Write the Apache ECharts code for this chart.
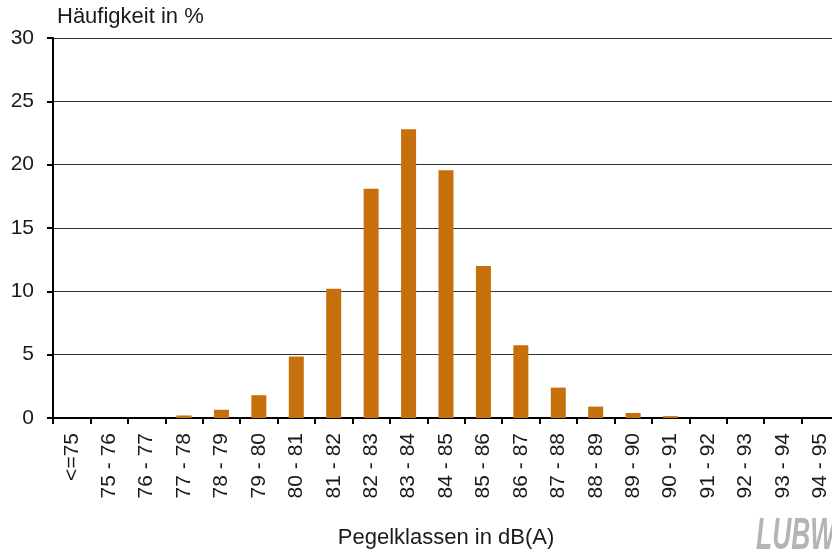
<!DOCTYPE html>
<html>
<head>
<meta charset="utf-8">
<script src="https://cdn.jsdelivr.net/npm/echarts@6/dist/echarts.min.js"></script>
<style>
html,body{margin:0;padding:0;background:#fff;}
#chart{width:832px;height:550px;}
</style>
</head>
<body>
<div id="chart"></div>
<script>
const categories = ["<=75","75 - 76","76 - 77","77 - 78","78 - 79","79 - 80","80 - 81","81 - 82","82 - 83","83 - 84","84 - 85","85 - 86","86 - 87","87 - 88","88 - 89","89 - 90","90 - 91","91 - 92","92 - 93","93 - 94","94 - 95"];
const frequency = [0,0,0,0.2,0.65,1.8,4.85,10.2,18.1,22.8,19.55,12.0,5.75,2.4,0.9,0.4,0.15,0,0,0,0];
const yTicks = [0,5,10,15,20,25,30];

const font = '"Liberation Sans", Arial, sans-serif';
const chart = echarts.init(document.getElementById('chart'), null, {renderer:'canvas'});
chart.setOption({
  animation:false,
  backgroundColor:'#fff',
  title:{
    text:'Häufigkeit in %',
    left:52, top:1,
    textStyle:{fontFamily:font, fontSize:22, fontWeight:'normal', color:'#1a1a1a'}
  },
  grid:{left:53, right:-7, top:38, bottom:132, containLabel:false, outerBoundsMode:'none'},
  xAxis:{
    type:'category',
    data:categories,
    boundaryGap:true,
    name:'Pegelklassen in dB(A)',
    nameLocation:'middle',
    nameGap:109,
    nameTextStyle:{fontFamily:font, fontSize:22, color:'#1a1a1a'},
    axisLine:{lineStyle:{color:'#000', width:2}},
    axisTick:{show:true, length:6, lineStyle:{color:'#000', width:2}, alignWithLabel:false},
    axisLabel:{rotate:90, margin:15, interval:0, fontFamily:font, fontSize:21, color:'#1a1a1a'},
    splitLine:{show:false}
  },
  yAxis:{
    type:'value',
    min:yTicks[0], max:yTicks[yTicks.length-1], interval:5,
    axisLine:{show:true, lineStyle:{color:'#000', width:2}},
    axisTick:{show:true, length:6, lineStyle:{color:'#000', width:2}},
    axisLabel:{margin:19, fontFamily:font, fontSize:21, color:'#1a1a1a'},
    splitLine:{show:true, lineStyle:{color:'#333', width:1.2}}
  },
  series:[{
    type:'bar',
    data:frequency,
    barWidth:15,
    itemStyle:{color:'#C6700B'}
  }],
  graphic:[{
    type:'text',
    x:756, y:515,
    scaleX:0.6,
    style:{text:'LUBW', fontFamily:font, fontSize:44, fontWeight:'bold', fontStyle:'italic', fill:'#b4b4b4'}
  }]
});
</script>
</body>
</html>
